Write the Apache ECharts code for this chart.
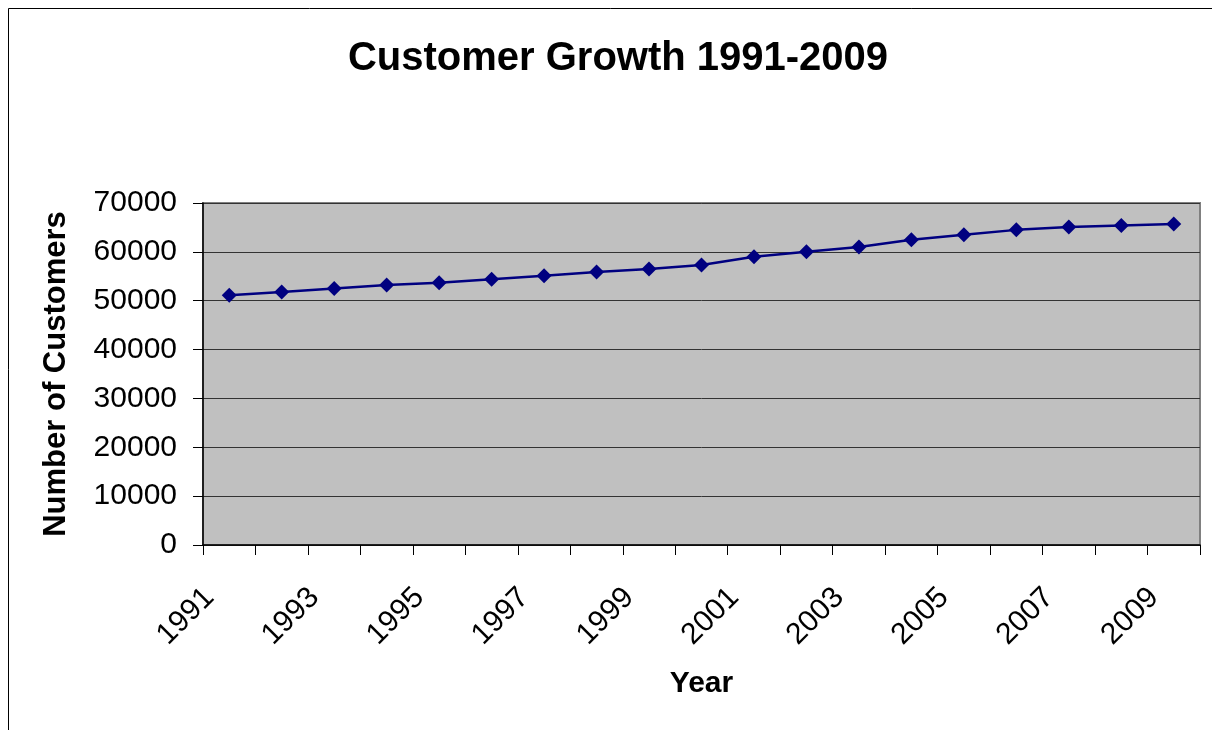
<!DOCTYPE html>
<html>
<head>
<meta charset="utf-8">
<script src="https://cdn.jsdelivr.net/npm/echarts@6/dist/echarts.min.js"></script>
<style>
  body { margin: 0; background: #fff; }
  #chart { width: 1212px; height: 730px; }
</style>
</head>
<body>
<div id="chart"></div>
<script>
  // years on the x axis
  var years = ['1991', '1992', '1993', '1994', '1995', '1996', '1997', '1998', '1999', '2000',
    '2001', '2002', '2003', '2004', '2005', '2006', '2007', '2008', '2009'];
  // customers per year
  var customers = [51100, 51800, 52500, 53200, 53700, 54400, 55100, 55900, 56500, 57300,
    59000, 60000, 61000, 62500, 63500, 64500, 65100, 65400, 65700];
  var yTicks = [0, 10000, 20000, 30000, 40000, 50000, 60000, 70000];

  var font = '"Liberation Sans", Arial, sans-serif';
  var chart = echarts.init(document.getElementById('chart'));
  chart.setOption({
    animation: false,
    title: {
      text: 'Customer Growth 1991-2009',
      left: 613,
      top: 34,
      textAlign: 'center',
      textStyle: { fontFamily: font, fontSize: 40, fontWeight: 'bold', color: '#000' }
    },
    graphic: [{
      type: 'rect',
      shape: { x: 8.5, y: 8.5, width: 1400, height: 1000 },
      style: { fill: 'none', stroke: '#000', lineWidth: 1 },
      silent: true
    }],
    grid: {
      left: 203, right: 12, top: 203, bottom: 185,
      show: true,
      backgroundColor: '#C0C0C0',
      borderColor: '#808080',
      borderWidth: 2
    },
    xAxis: {
      type: 'category',
      data: years,
      boundaryGap: true,
      name: 'Year',
      nameLocation: 'middle',
      nameGap: 124,
      nameTextStyle: { fontFamily: font, fontSize: 30, fontWeight: 'bold', color: '#000' },
      axisLine: { lineStyle: { color: '#000', width: 1.5 } },
      axisTick: { show: true, length: 10, interval: 0, lineStyle: { color: '#000' } },
      axisLabel: {
        interval: 1,
        rotate: 45,
        margin: 28,
        padding: [0, 28, 0, 0],
        fontFamily: font, fontSize: 30, color: '#000'
      },
      splitLine: { show: false }
    },
    yAxis: {
      type: 'value',
      min: yTicks[0],
      max: yTicks[yTicks.length - 1],
      interval: 10000,
      name: 'Number of Customers',
      nameLocation: 'middle',
      nameGap: 131,
      nameTextStyle: { fontFamily: font, fontSize: 31, fontWeight: 'bold', color: '#000' },
      axisLine: { show: true, lineStyle: { color: '#000', width: 1.5 } },
      axisTick: { show: true, length: 10, lineStyle: { color: '#000' } },
      axisLabel: {
        margin: 26, fontFamily: font, fontSize: 30, color: '#000',
        formatter: function (v) { return String(v); }
      },
      splitLine: { show: true, lineStyle: { color: '#333', width: 1 } }
    },
    series: [{
      name: 'Customers',
      type: 'line',
      data: customers,
      symbol: 'diamond',
      symbolSize: 15,
      lineStyle: { color: '#000080', width: 2.5 },
      itemStyle: { color: '#000080' }
    }]
  });
</script>
</body>
</html>
